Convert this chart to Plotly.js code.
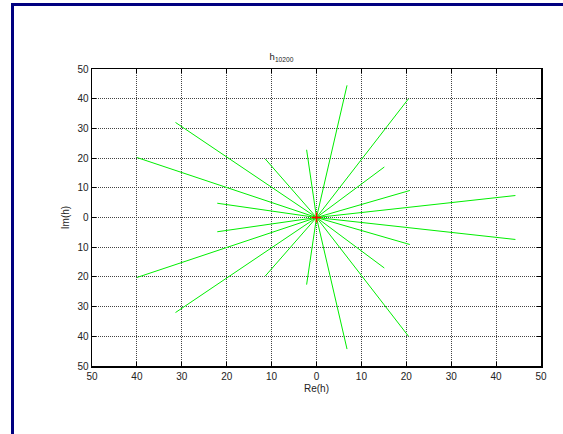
<!DOCTYPE html>
<html>
<head>
<meta charset="utf-8">
<script src="https://cdn.plot.ly/plotly-3.0.1.min.js"></script>
<style>
html,body{margin:0;padding:0;background:#fff;overflow:hidden;}
#frame{position:absolute;left:11px;top:3px;width:600px;height:480px;border:3px solid #000080;box-sizing:border-box;}
#chart{position:absolute;left:0;top:0;width:563px;height:434px;}
</style>
</head>
<body>
<div id="chart"></div>
<div id="frame"></div>
<script>
// Upper-half points (real, imag); lower half are conjugates
const reUpper = [6.8, 20.5, 15.1, 20.8, 44.3, -31.4, -40.0, -22.1, -2.2, -11.4];
const imUpper = [44.5, 40.0, 17.0, 9.1, 7.4, 32.0, 20.2, 4.8, 22.8, 19.7];
const reLower = [6.8, 20.5, 15.1, 20.8, 44.3, -31.4, -40.0, -22.1, -2.2, -11.4];
const imLower = [-44.3, -40.0, -17.0, -9.1, -7.4, -32.0, -20.2, -4.8, -22.6, -19.7];
const tickVals = [-50, -40, -30, -20, -10, 0, 10, 20, 30, 40, 50];
const tickText = ["50", "40", "30", "20", "10", "0", "10", "20", "30", "40", "50"];

const xs = [], ys = [];
function addSpokes(re, im) {
  for (let i = 0; i < re.length; i++) {
    xs.push(0, re[i], null);
    ys.push(0, im[i], null);
  }
}
addSpokes(reUpper, imUpper);
addSpokes(reLower, imLower);

const traces = [
  {x: xs, y: ys, mode: 'lines', type: 'scatter', line: {color: '#00ee00', width: 1}, hoverinfo: 'skip'},
  {x: [0], y: [0], mode: 'markers', type: 'scatter', marker: {symbol: 'cross-thin', size: 7, color: 'red', line: {color: 'red', width: 1.5}}}
];

const axisCommon = {
  tickvals: tickVals, ticktext: tickText,
  showgrid: true, gridcolor: '#444', griddash: '1px,1px', gridwidth: 1,
  zeroline: false, showline: true, linecolor: '#000', linewidth: 1.5, mirror: 'ticks',
  ticks: 'inside', ticklen: 4, tickcolor: '#000',
  tickfont: {family: 'Liberation Sans, Arial, sans-serif', size: 10, color: '#222'},
  fixedrange: true
};

const layout = {
  width: 563, height: 434,
  margin: {l: 92, r: 22, t: 69, b: 68},
  paper_bgcolor: '#fff', plot_bgcolor: '#fff',
  showlegend: false,
  title: {text: 'h<sub>10200</sub>', x: 0.5, xanchor: 'center', y: 1 - 57/434, yanchor: 'middle',
          font: {family: 'Liberation Sans, Arial, sans-serif', size: 9.5, color: '#222'}},
  xaxis: Object.assign({}, axisCommon, {range: [-50, 50],
    title: {text: 'Re(h)', standoff: 4, font: {family: 'Liberation Sans, Arial, sans-serif', size: 10, color: '#222'}}}),
  yaxis: Object.assign({}, axisCommon, {range: [-50, 50],
    title: {text: 'Im(h)', standoff: 6, font: {family: 'Liberation Sans, Arial, sans-serif', size: 10, color: '#222'}}})
};

Plotly.newPlot('chart', traces, layout, {staticPlot: true, displayModeBar: false});
</script>
</body>
</html>
